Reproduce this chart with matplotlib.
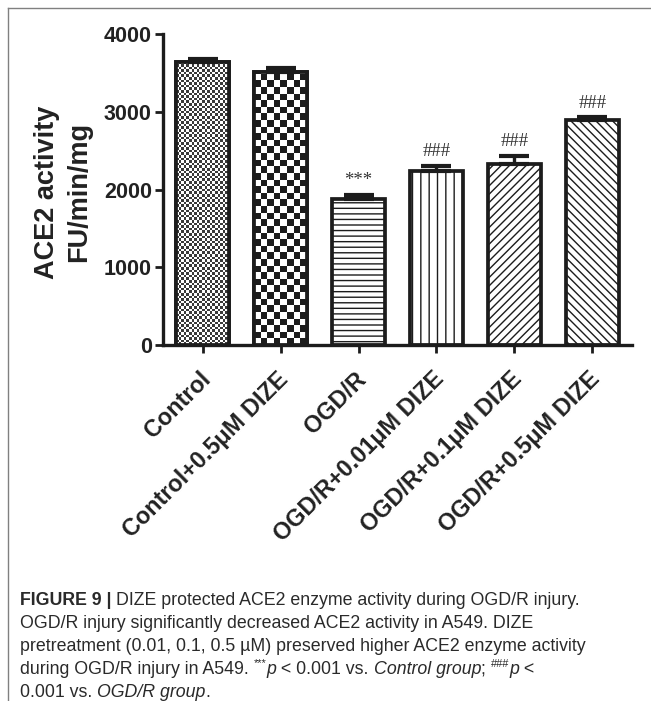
import matplotlib
matplotlib.use('Agg')
import matplotlib.pyplot as plt
import numpy as np
from matplotlib import transforms as mtransforms
from matplotlib.lines import Line2D
from matplotlib.colors import ListedColormap
from matplotlib.font_manager import FontProperties, findfont

# ---------------- data ----------------
categories = ["Control", "Control+0.5μM DIZE", "OGD/R",
              "OGD/R+0.01μM DIZE", "OGD/R+0.1μM DIZE", "OGD/R+0.5μM DIZE"]
means = [3636, 3515, 1874, 2242, 2324, 2894]
sems = [40, 44, 59, 64, 107, 35]
marks = ["", "", "***", "###", "###", "###"]
yticks = [0, 1000, 2000, 3000, 4000]
ylabel_lines = ["ACE2 activity", "FU/min/mg"]

caption_lines = [
    [("FIGURE 9 | ", "b"), ("DIZE protected ACE2 enzyme activity during OGD/R injury.", "n")],
    [("OGD/R injury significantly decreased ACE2 activity in A549. DIZE", "n")],
    [("pretreatment (0.01, 0.1, 0.5 µM) preserved higher ACE2 enzyme activity", "n")],
    [("during OGD/R injury in A549. ", "n"), ("***", "sup"), ("p", "i"),
     (" < 0.001 vs. ", "n"), ("Control group", "i"), ("; ", "n"),
     ("###", "sup"), ("p", "i"), (" <", "n")],
    [("0.001 vs. ", "n"), ("OGD/R group", "i"), (".", "n")],
]

# ---------------- style ----------------
patterns = ["finecheck", "check", "---", "||", "////", "\\\\\\\\"]
DARK = "#1c1c1c"
W, H = 651, 701
plt.rcParams['hatch.linewidth'] = 1.0
plt.rcParams['font.family'] = ['Liberation Sans', 'DejaVu Sans']

fig = plt.figure(figsize=(W / 100, H / 100), dpi=100)
ax = fig.add_axes([163 / W, (H - 345) / H, 469 / W, 311 / H])

x = np.arange(len(categories))
bw = 0.68
EW = 2.7
ax.set_xlim(-0.51, len(categories) - 1 + 0.51)
ax.set_ylim(0, 4000)

bars = []
for i in range(len(categories)):
    pat = patterns[i]
    hatch = None if 'check' in pat else pat
    b = ax.bar(x[i], means[i], width=bw, facecolor='white', edgecolor=DARK,
               linewidth=EW, hatch=hatch, zorder=2)[0]
    bars.append(b)

# checkerboard fills, clipped to bars
for i in range(len(categories)):
    pat = patterns[i]
    if 'check' not in pat:
        continue
    cell = 2.6 if pat == 'finecheck' else 6.6
    dark = '#3a3a3a' if pat == 'finecheck' else DARK
    b = bars[i]
    x0 = b.get_x(); x1 = x0 + b.get_width(); h = b.get_height()
    p0 = ax.transData.transform((x0, 0)); p1 = ax.transData.transform((x1, h))
    pxx = (p1[0] - p0[0]) / (x1 - x0); pxy = (p1[1] - p0[1]) / h
    ncol = int(np.ceil((p1[0] - p0[0]) / cell)) + 1
    nrow = int(np.ceil((p1[1] - p0[1]) / cell)) + 1
    arr = np.add.outer(np.arange(nrow), np.arange(ncol)) % 2
    im = ax.imshow(arr, extent=(x0, x0 + ncol * cell / pxx, 0, nrow * cell / pxy),
                   cmap=ListedColormap(['white', dark]), interpolation='nearest',
                   aspect='auto', origin='lower', zorder=2.5)
    im.set_clip_path(b)
    ax.bar(x[i], means[i], width=bw, fill=False, edgecolor=DARK, linewidth=EW, zorder=3)

ax.set_xlim(-0.51, len(categories) - 1 + 0.51)
ax.set_ylim(0, 4000)

ax.errorbar(x, means, yerr=[np.zeros(len(sems)), sems], fmt='none', ecolor=DARK,
            elinewidth=2.4, capsize=10.5, capthick=3.0, zorder=4)

for i, m in enumerate(marks):
    if m:
        ax.annotate(m, xy=(x[i], means[i] + sems[i]), xytext=(0, 7),
                    textcoords='offset points', ha='center', va='baseline',
                    family=['Liberation Serif', 'DejaVu Serif'], fontsize=13.5, color='#333333')

for s in ['top', 'right']:
    ax.spines[s].set_visible(False)
for s in ['left', 'bottom']:
    ax.spines[s].set_linewidth(2.4)
    ax.spines[s].set_color(DARK)
ax.set_yticks(yticks)
ax.set_yticklabels([str(t) for t in yticks], fontsize=15.5, fontweight='bold', color='#222222')
ax.tick_params(axis='y', direction='out', length=6, width=2.0, color=DARK, pad=2)
ax.set_xticks(x)
ax.set_xticklabels([''] * len(categories))
ax.tick_params(axis='x', direction='out', length=6, width=2.0, color=DARK)

for i, c in enumerate(categories):
    ax.annotate(c, xy=(x[i], 0), xycoords=('data', 'axes fraction'),
                xytext=(3.0, -22.0), textcoords='offset points', rotation=45,
                rotation_mode='anchor', ha='right', va='center',
                fontsize=16.8, fontweight='bold', color='#222222')

# y label (two lines)
ident = mtransforms.IdentityTransform()
fig.text(47, H - 192, ylabel_lines[0], transform=ident, rotation=90, ha='center',
         va='center', fontsize=19.5, fontweight='bold', color='#222222')
fig.text(79, H - 192, ylabel_lines[1], transform=ident, rotation=90, ha='center',
         va='center', fontsize=19.5, fontweight='bold', color='#222222')

# frame lines
fig.add_artist(Line2D([8 / W, 1], [1 - 8 / H, 1 - 8 / H], color='#808080', lw=1.0))
fig.add_artist(Line2D([8 / W, 8 / W], [0, 1 - 8 / H], color='#808080', lw=1.0))

# caption
fig.canvas.draw()
renderer = fig.canvas.get_renderer()
try:
    findfont(FontProperties(family='Liberation Sans Narrow'), fallback_to_default=False)
    cap_family = ['Liberation Sans Narrow', 'Liberation Sans']
except Exception:
    cap_family = ['Liberation Sans']


def prop_for(style, fs):
    kw = dict(family=cap_family, size=fs)
    if style == 'b':
        kw['weight'] = 'bold'
    if style == 'i':
        kw['style'] = 'italic'
    if style == 'sup':
        kw['size'] = fs * 0.62
    return FontProperties(**kw)


def adv(s, prop):
    w1, _, _ = renderer.get_text_width_height_descent(s + 'I', prop, ismath=False)
    w2, _, _ = renderer.get_text_width_height_descent('I', prop, ismath=False)
    return w1 - w2


ref_line = caption_lines[2][0][0]
w10 = adv(ref_line, prop_for('n', 10))
cap_fs = 10 * 568 / w10
cap_px = cap_fs * 100 / 72

baselines = [605, 628, 651, 674, 697]
for line, bl in zip(caption_lines, baselines):
    xx = 20
    for txt, st in line:
        p = prop_for(st, cap_fs)
        yy = H - bl
        if st == 'sup':
            yy += cap_px * 0.42
        fig.text(xx, yy, txt, transform=ident, fontproperties=p, ha='left',
                 va='baseline', color='#2a2a2a')
        xx += adv(txt, p)

fig.savefig('out.png', dpi=100)
